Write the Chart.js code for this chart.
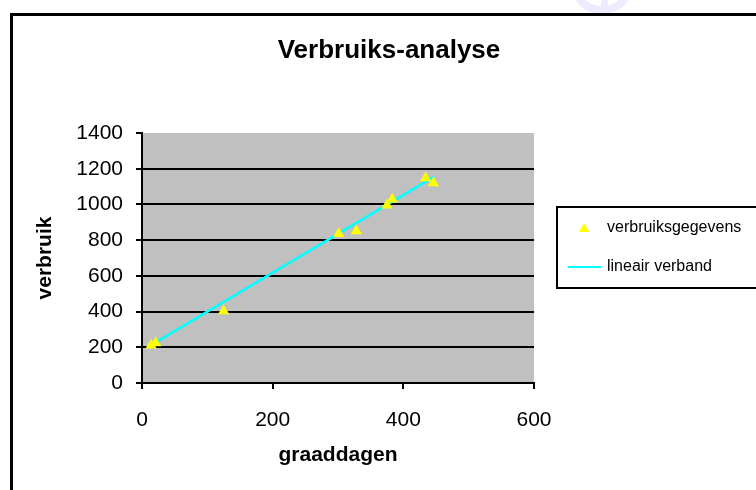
<!DOCTYPE html>
<html>
<head>
<meta charset="utf-8">
<script src="https://cdn.jsdelivr.net/npm/chart.js@4/dist/chart.umd.min.js"></script>
<style>
  html, body { margin: 0; padding: 0; background: #fff; }
  #wrap { width: 756px; height: 490px; }
</style>
</head>
<body>
<div id="wrap"><canvas id="chart" width="756" height="490"></canvas></div>
<script>
// data
const graaddagen = [14, 21, 125, 301, 328, 375, 383, 434, 446];
const verbruik = [211, 224, 403, 836, 851, 995, 1029, 1148, 1120];
const trendX = [19, 446];
const trendY = [223, 1153];
const xTicks = [0, 200, 400, 600];
const yTicks = [0, 200, 400, 600, 800, 1000, 1200, 1400];

const chartTitle = 'Verbruiks-analyse';
const fontFamily = '"Liberation Sans", Arial, sans-serif';

const frame = {
    id: 'frame',
    beforeDraw(chart) {
        const c = chart.ctx;
        const a = chart.chartArea;
        c.save();
        // faint mark peeking over the top edge
        c.beginPath();
        c.rect(560, 0, 80, 13);
        c.clip();
        c.strokeStyle = '#efeafe';
        c.lineWidth = 8;
        c.beginPath();
        c.ellipse(602, -8, 24, 18, 0, 0, Math.PI * 2);
        c.stroke();
        c.fillStyle = '#efeafe';
        c.fillRect(601, 0, 7, 13);
        c.restore();

        c.save();
        c.strokeStyle = '#000';
        c.lineWidth = 3;
        c.beginPath();
        c.moveTo(11.5, 492);
        c.lineTo(11.5, 14.5);
        c.lineTo(760, 14.5);
        c.stroke();

        c.fillStyle = '#c0c0c0';
        c.fillRect(a.left, a.top, a.right - a.left, a.bottom - a.top);

        c.fillStyle = '#000';
        c.font = 'bold 26px ' + fontFamily;
        c.textAlign = 'center';
        c.textBaseline = 'middle';
        c.fillText(chartTitle, 389, 51);
        c.restore();
    },
    afterDraw(chart) {
        const c = chart.ctx;
        const ds = chart.data.datasets;
        c.save();
        c.strokeStyle = '#000';
        c.lineWidth = 2;
        c.strokeRect(557, 207, 220, 81);

        c.fillStyle = ds[0].backgroundColor;
        const r = 6, tx = 584, ty = 229;
        c.beginPath();
        for (let i = 0; i < 3; i++) {
            const ang = i * 2 * Math.PI / 3;
            const px = tx + Math.sin(ang) * r, py = ty - Math.cos(ang) * r;
            if (i === 0) c.moveTo(px, py); else c.lineTo(px, py);
        }
        c.closePath();
        c.fill();

        c.strokeStyle = ds[1].borderColor;
        c.lineWidth = 2;
        c.beginPath();
        c.moveTo(568, 267);
        c.lineTo(601, 267);
        c.stroke();

        c.fillStyle = '#000';
        c.font = '16px ' + fontFamily;
        c.textAlign = 'left';
        c.textBaseline = 'middle';
        c.fillText(ds[0].label, 607, 228);
        c.fillText(ds[1].label, 607, 267);
        c.restore();
    }
};

const ctx = document.getElementById('chart').getContext('2d');
new Chart(ctx, {
    type: 'scatter',
    data: {
        datasets: [
            {
                label: 'verbruiksgegevens',
                data: graaddagen.map((x, i) => ({ x: x, y: verbruik[i] })),
                pointStyle: 'triangle',
                pointRadius: 6.5,
                backgroundColor: '#ffff00',
                borderColor: '#ffff00',
                borderWidth: 0,
            },
            {
                label: 'lineair verband',
                type: 'line',
                data: trendX.map((x, i) => ({ x: x, y: trendY[i] })),
                borderColor: '#00ffff',
                borderWidth: 2.5,
                pointRadius: 0,
                fill: false,
            },
        ],
    },
    options: {
        responsive: false,
        animation: false,
        layout: { padding: { left: 10, top: 133, right: 222, bottom: 0 } },
        plugins: {
            legend: { display: false },
            title: { display: false },
            tooltip: { enabled: false },
        },
        scales: {
            x: {
                type: 'linear',
                min: xTicks[0],
                max: xTicks[xTicks.length - 1],
                afterBuildTicks: (s) => { s.ticks = xTicks.map(v => ({ value: v })); },
                afterFit: (s) => { s.height = 107; },
                border: { color: '#000', width: 2 },
                grid: { drawOnChartArea: false, tickLength: 6, tickColor: '#000', lineWidth: 2 },
                ticks: {
                    color: '#000', padding: 19, maxRotation: 0,
                    font: { family: fontFamily, size: 21 },
                    callback: (v) => String(v),
                },
                title: {
                    display: true,
                    text: 'graaddagen',
                    color: '#000',
                    padding: { top: 0, bottom: 22 },
                    font: { family: fontFamily, size: 21, weight: 'bold' },
                },
            },
            y: {
                type: 'linear',
                min: yTicks[0],
                max: yTicks[yTicks.length - 1],
                afterBuildTicks: (s) => { s.ticks = yTicks.map(v => ({ value: v })); },
                afterFit: (s) => { s.width = 132; },
                border: { color: '#000', width: 2 },
                grid: {
                    color: (c) => (c.tick && c.tick.value === yTicks[yTicks.length - 1]) ? 'rgba(0,0,0,0)' : '#000',
                    tickColor: '#000',
                    lineWidth: 2,
                    tickLength: 6,
                },
                ticks: {
                    color: '#000', padding: 13,
                    font: { family: fontFamily, size: 21 },
                    callback: (v) => String(v),
                },
                title: {
                    display: true,
                    text: 'verbruik',
                    color: '#000',
                    padding: { top: 23, bottom: 0 },
                    font: { family: fontFamily, size: 21, weight: 'bold' },
                },
            },
        },
    },
    plugins: [frame],
});
</script>
</body>
</html>
